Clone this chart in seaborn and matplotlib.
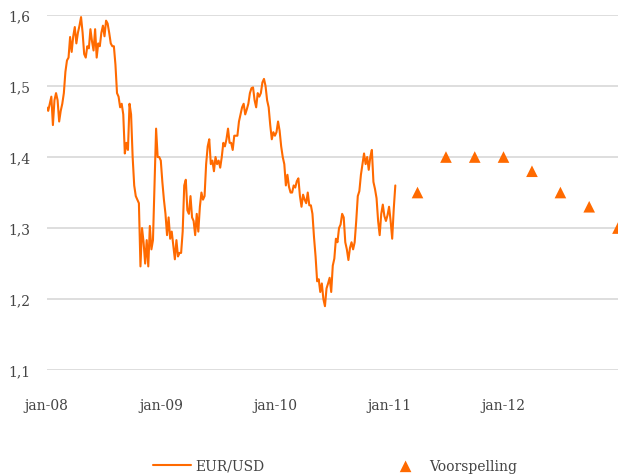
import matplotlib
matplotlib.use('Agg')
import matplotlib.pyplot as plt
import pandas as pd
import seaborn as sns

eurusd = [
    1.470, 1.465, 1.475, 1.485, 1.445, 1.480, 1.490, 1.480, 1.450, 1.465,
    1.475, 1.490, 1.520, 1.536, 1.540, 1.569, 1.548, 1.570, 1.583, 1.560,
    1.575, 1.585, 1.597, 1.575, 1.545, 1.540, 1.556, 1.553, 1.580, 1.563,
    1.550, 1.580, 1.540, 1.560, 1.556, 1.575, 1.585, 1.570, 1.592, 1.588,
    1.575, 1.560, 1.556, 1.556, 1.530, 1.490, 1.485, 1.470, 1.475, 1.460,
    1.405, 1.420, 1.410, 1.475, 1.460, 1.400, 1.360, 1.345, 1.340, 1.335,
    1.246, 1.300, 1.280, 1.250, 1.283, 1.246, 1.303, 1.270, 1.283, 1.360,
    1.440, 1.400, 1.400, 1.395, 1.365, 1.340, 1.320, 1.290, 1.315, 1.285,
    1.295, 1.275, 1.256, 1.283, 1.260, 1.265, 1.265, 1.295, 1.360, 1.368,
    1.325, 1.320, 1.345, 1.315, 1.310, 1.290, 1.320, 1.295, 1.330, 1.350,
    1.340, 1.345, 1.390, 1.415, 1.425, 1.390, 1.395, 1.380, 1.400, 1.390,
    1.395, 1.385, 1.400, 1.420, 1.415, 1.425, 1.440, 1.420, 1.420, 1.410,
    1.430, 1.430, 1.430, 1.450, 1.460, 1.470, 1.475, 1.460, 1.467, 1.475,
    1.490, 1.497, 1.498, 1.480, 1.470, 1.490, 1.485, 1.490, 1.505, 1.510,
    1.500, 1.480, 1.470, 1.445, 1.425, 1.435, 1.430, 1.435, 1.450, 1.437,
    1.415, 1.400, 1.390, 1.360, 1.375, 1.358, 1.350, 1.350, 1.360, 1.357,
    1.366, 1.370, 1.345, 1.330, 1.347, 1.340, 1.335, 1.350, 1.332, 1.332,
    1.320, 1.287, 1.260, 1.225, 1.228, 1.210, 1.222, 1.200, 1.190, 1.215,
    1.222, 1.230, 1.210, 1.247, 1.257, 1.285, 1.280, 1.300, 1.305, 1.320,
    1.315, 1.280, 1.270, 1.255, 1.272, 1.280, 1.270, 1.280, 1.310, 1.345,
    1.352, 1.375, 1.390, 1.405, 1.390, 1.400, 1.382, 1.400, 1.410, 1.365,
    1.355, 1.342, 1.310, 1.290, 1.320, 1.333, 1.317, 1.310, 1.318, 1.330,
    1.310, 1.285, 1.327, 1.360,
]

forecast_dates = ['2011-04-01', '2011-07-01', '2011-10-01', '2012-01-01',
                  '2012-04-01', '2012-07-01', '2012-10-01', '2013-01-01']
forecast = [1.35, 1.40, 1.40, 1.40, 1.38, 1.35, 1.33, 1.30]

xtick_dates = ['2008-01-01', '2009-01-01', '2010-01-01', '2011-01-01', '2012-01-01']
xtick_labels = ['jan-08', 'jan-09', 'jan-10', 'jan-11', 'jan-12']
ytick_values = [1.1, 1.2, 1.3, 1.4, 1.5, 1.6]
ytick_labels = ['1,1', '1,2', '1,3', '1,4', '1,5', '1,6']

orange = '#ff6a00'

sns.set_theme(style='white')
plt.rcParams['font.family'] = ['DejaVu Serif']

koers = pd.DataFrame({'datum': pd.date_range('2008-01-01', periods=len(eurusd), freq='5D'),
                      'waarde': eurusd})
prognose = pd.DataFrame({'datum': pd.to_datetime(forecast_dates), 'waarde': forecast})

fig = plt.figure(figsize=(6.22, 4.77), dpi=100)
ax = fig.add_axes([0.075, 0.222, 0.9185, 0.7445])

for v in ytick_values:
    ax.axhline(v, color='#d4d4d4', lw=1.1, zorder=0)

sns.lineplot(data=koers, x='datum', y='waarde', color=orange, lw=1.5, ax=ax, label='EUR/USD')
sns.scatterplot(data=prognose, x='datum', y='waarde', color=orange, marker='^', s=70,
                edgecolor='none', ax=ax, label='Voorspelling', zorder=5)

ax.set_xlim(pd.Timestamp('2008-01-01'), pd.Timestamp('2013-01-01'))
ax.set_ylim(1.1, 1.6)
ax.set_xticks(pd.to_datetime(xtick_dates))
ax.set_xticklabels(xtick_labels)
ax.set_yticks(ytick_values)
ax.set_yticklabels(ytick_labels)
ax.tick_params(axis='both', length=0, labelsize=10, colors='#444444')
ax.tick_params(axis='x', pad=20)
ax.tick_params(axis='y', pad=12)
ax.set_xlabel('')
ax.set_ylabel('')
for s in ax.spines.values():
    s.set_visible(False)

ax.legend(loc='center', bbox_to_anchor=(0.505, -0.27), ncol=2, frameon=False,
          fontsize=10, columnspacing=8.8, handlelength=2.7, handletextpad=0.35,
          labelcolor='#444444')

fig.savefig('out.png', dpi=100)
